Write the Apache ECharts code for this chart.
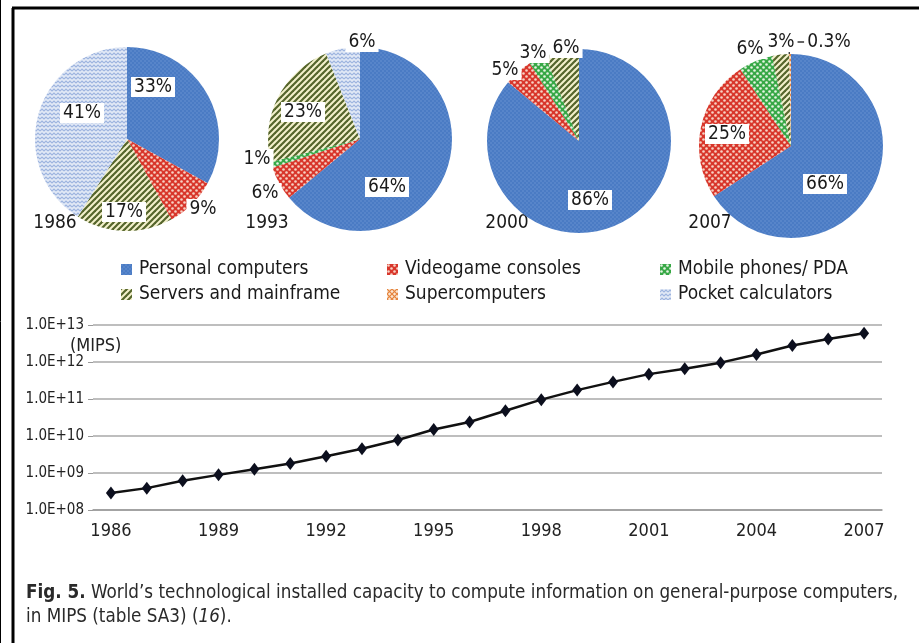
<!DOCTYPE html>
<html style="height: 100%">

<head>
    <meta charset="utf-8">
    <script src="https://cdn.jsdelivr.net/npm/echarts@6/dist/echarts.min.js"></script>
</head>

<body style="height: 100%; margin: 0; background: #fff">
    <div id="chart" style="width: 919px; height: 643px"></div>
    <script type="text/javascript">
        // pie categories, clockwise from 12 o'clock
        var categories = ['Personal computers', 'Videogame consoles', 'Mobile phones/ PDA',
            'Servers and mainframe', 'Supercomputers', 'Pocket calculators'];
        var pieYears = ['1986', '1993', '2000', '2007'];
        // shares in %
        var share1986 = [33, 9, 0, 17, 0, 41];
        var share1993 = [64, 6, 1, 23, 0, 6];
        var share2000 = [86, 5, 3, 6, 0, 0];
        var share2007 = [66, 25, 6, 3, 0.3, 0];

        // installed capacity, MIPS
        var years = ['1986', '1987', '1988', '1989', '1990', '1991', '1992', '1993', '1994', '1995', '1996',
            '1997', '1998', '1999', '2000', '2001', '2002', '2003', '2004', '2005', '2006', '2007'];
        var mips = [2.9e8, 3.9e8, 6.2e8, 8.9e8, 1.27e9, 1.8e9, 2.85e9, 4.5e9, 7.8e9, 1.5e10, 2.4e10,
            4.8e10, 9.6e10, 1.74e11, 2.9e11, 4.7e11, 6.6e11, 9.6e11, 1.6e12, 2.8e12, 4.2e12, 6.0e12];

        var FONT = '"Liberation Sans Narrow", "DejaVu Sans Condensed", sans-serif';

        function tile(w, h, draw) {
            var c = document.createElement('canvas');
            c.width = w; c.height = h;
            draw(c.getContext('2d'), w, h);
            return { image: c, repeat: 'repeat' };
        }
        function dots(base, dot, size, r) {
            return tile(size, size, function (ctx, w, h) {
                ctx.fillStyle = base; ctx.fillRect(0, 0, w, h);
                ctx.fillStyle = dot;
                [[w / 4, h / 4], [3 * w / 4, 3 * h / 4]].forEach(function (p) {
                    ctx.beginPath(); ctx.arc(p[0], p[1], r, 0, Math.PI * 2); ctx.fill();
                });
            });
        }
        var fills = [
            dots('#4a7bc4', '#6f98d6', 4, 0.7),
            dots('#d8362b', '#f7d2c4', 6, 1.3),
            dots('#37a846', '#e6f4e2', 6, 1.3),
            tile(6, 6, function (ctx, w, h) {
                ctx.fillStyle = '#f4f1cc'; ctx.fillRect(0, 0, w, h);
                ctx.strokeStyle = '#55652c'; ctx.lineWidth = 2.2;
                [[-1, 1, 1, -1], [0, 6, 6, 0], [5, 7, 7, 5]].forEach(function (l) {
                    ctx.beginPath(); ctx.moveTo(l[0], l[1]); ctx.lineTo(l[2], l[3]); ctx.stroke();
                });
            }),
            tile(5, 5, function (ctx, w, h) {
                ctx.fillStyle = '#fbe6d2'; ctx.fillRect(0, 0, w, h);
                ctx.strokeStyle = '#e5823a'; ctx.lineWidth = 1.2;
                ctx.beginPath(); ctx.moveTo(0, 0); ctx.lineTo(5, 5); ctx.moveTo(5, 0); ctx.lineTo(0, 5); ctx.stroke();
            }),
            tile(8, 4, function (ctx, w, h) {
                ctx.fillStyle = '#e2e9f6'; ctx.fillRect(0, 0, w, h);
                ctx.strokeStyle = '#9db4df'; ctx.lineWidth = 1.1;
                ctx.beginPath(); ctx.moveTo(0, 3); ctx.lineTo(2, 1); ctx.lineTo(4, 3); ctx.lineTo(6, 1); ctx.lineTo(8, 3); ctx.stroke();
            })
        ];

        var centers = [[127, 139], [360, 139], [579, 141], [791, 146]];
        var yearLabelDx = [-72, -93, -72, -81];
        // label offsets from pie centre, per category
        var labelOffsets = [
            [[26, -52], [76, 70], null, [-3, 73], null, [-45, -26]],
            [[27, 48], [-95, 54], [-103, 20], [-57, -27], null, [2, -97]],
            [[11, 59], [-74, -71], [-46, -88], [-13, -93], null, null],
            [[34, 38], [-64, -12], [-41, -97], [-10, -104], [38, -104], null]
        ];
        var shares = [share1986, share1993, share2000, share2007];

        var pieSeries = shares.map(function (vals, s) {
            return {
                type: 'pie',
                center: centers[s],
                radius: 92,
                startAngle: 90,
                silent: true,
                data: vals.map(function (v, i) {
                    return {
                        name: categories[i],
                        value: v,
                        itemStyle: { color: fills[i] },
                        label: { show: v > 0 },
                        labelLine: { show: v > 0 && v < 1, lineStyle: { color: '#333', width: 1.3 } }
                    };
                }),
                label: {
                    position: 'inside',
                    formatter: '{c}%',
                    fontFamily: FONT,
                    fontSize: 19,
                    color: '#1a1a1a',
                    backgroundColor: '#fff',
                    padding: [1, 3, 0, 3]
                },
                labelLine: { show: false },
                labelLayout: function (p) {
                    var off = labelOffsets[s][p.dataIndex];
                    if (!off) return {};
                    var cx = centers[s][0], cy = centers[s][1];
                    return {
                        x: cx + off[0],
                        y: cy + off[1],
                        align: 'center',
                        verticalAlign: 'middle',
                        labelLinePoints: [[cx + 5, cy - 94], [cx + 12, cy - 101], [cx + 15, cy - 101]]
                    };
                }
            };
        });

        var lineSeries = {
            type: 'line',
            xAxisIndex: 0,
            yAxisIndex: 0,
            data: mips,
            symbol: 'diamond',
            symbolSize: [10, 13],
            lineStyle: { color: '#111', width: 2.5 },
            itemStyle: { color: '#0c0f1e' }
        };

        function legendCol(names, left) {
            return {
                data: names,
                orient: 'vertical',
                left: left,
                top: 255,
                itemGap: 6,
                itemWidth: 11,
                itemHeight: 11,
                icon: 'rect',
                selectedMode: false,
                textStyle: { fontFamily: FONT, fontSize: 19, color: '#1a1a1a', padding: [0, 0, 0, 2] }
            };
        }

        var chart = echarts.init(document.getElementById('chart'));
        chart.setOption({
            animation: false,
            backgroundColor: '#fff',
            title: {
                left: 21,
                top: 576,
                text: '{b|Fig. 5.} World’s technological installed capacity to compute information on general-purpose computers,\nin MIPS (table SA3) ({i|16}).',
                textStyle: {
                    fontFamily: FONT, fontSize: 18.7, fontWeight: 'normal', color: '#2a2a2a', lineHeight: 24,
                    rich: {
                        b: { fontFamily: FONT, fontSize: 18.7, fontWeight: 'bold', color: '#2a2a2a', lineHeight: 24 },
                        i: { fontFamily: FONT, fontSize: 18.7, fontStyle: 'italic', color: '#2a2a2a', lineHeight: 24 }
                    }
                }
            },
            legend: [
                legendCol(['Personal computers', 'Servers and mainframe'], 116),
                legendCol(['Videogame consoles', 'Supercomputers'], 382),
                legendCol(['Mobile phones/ PDA', 'Pocket calculators'], 655)
            ],
            grid: { left: 93, right: 37, top: 325, bottom: 133 },
            xAxis: {
                type: 'category',
                data: years,
                axisLine: { lineStyle: { color: '#9a9a9a', width: 1.5 } },
                axisTick: { interval: 0, length: 5, lineStyle: { color: '#9a9a9a' } },
                axisLabel: { interval: 2, fontFamily: FONT, fontSize: 18, color: '#222', margin: 12 }
            },
            yAxis: {
                type: 'log',
                logBase: 10,
                min: 1e8,
                max: 1e13,
                splitNumber: 5,
                axisLine: { show: false },
                axisTick: { show: true, length: 5, lineStyle: { color: '#9a9a9a' } },
                splitLine: { lineStyle: { color: '#a8a8a8', width: 1.5 } },
                axisLabel: {
                    fontFamily: FONT, fontSize: 15, color: '#222', margin: 9,
                    formatter: function (v) {
                        var e = Math.round(Math.log10(v));
                        return '1.0E+' + (e < 10 ? '0' + e : e);
                    }
                }
            },
            graphic: [
                { type: 'line', shape: { x1: 0.5, y1: 0, x2: 0.5, y2: 643 }, style: { stroke: '#000', lineWidth: 1 } },
                { type: 'line', shape: { x1: 13, y1: 8, x2: 13, y2: 643 }, style: { stroke: '#000', lineWidth: 3 } },
                { type: 'line', shape: { x1: 12, y1: 8, x2: 919, y2: 8 }, style: { stroke: '#000', lineWidth: 3 } },
                {
                    type: 'text', x: 70, y: 346,
                    style: { text: '(MIPS)', fontFamily: FONT, fontSize: 18, fill: '#222', textVerticalAlign: 'middle' }
                }
            ].concat(pieYears.map(function (y, s) {
                return {
                    type: 'text',
                    x: centers[s][0] + yearLabelDx[s],
                    y: 223,
                    style: { text: y, fontFamily: FONT, fontSize: 19, fill: '#1a1a1a', textAlign: 'center', textVerticalAlign: 'middle' }
                };
            })),
            series: pieSeries.concat([lineSeries])
        });
    </script>
</body>

</html>
